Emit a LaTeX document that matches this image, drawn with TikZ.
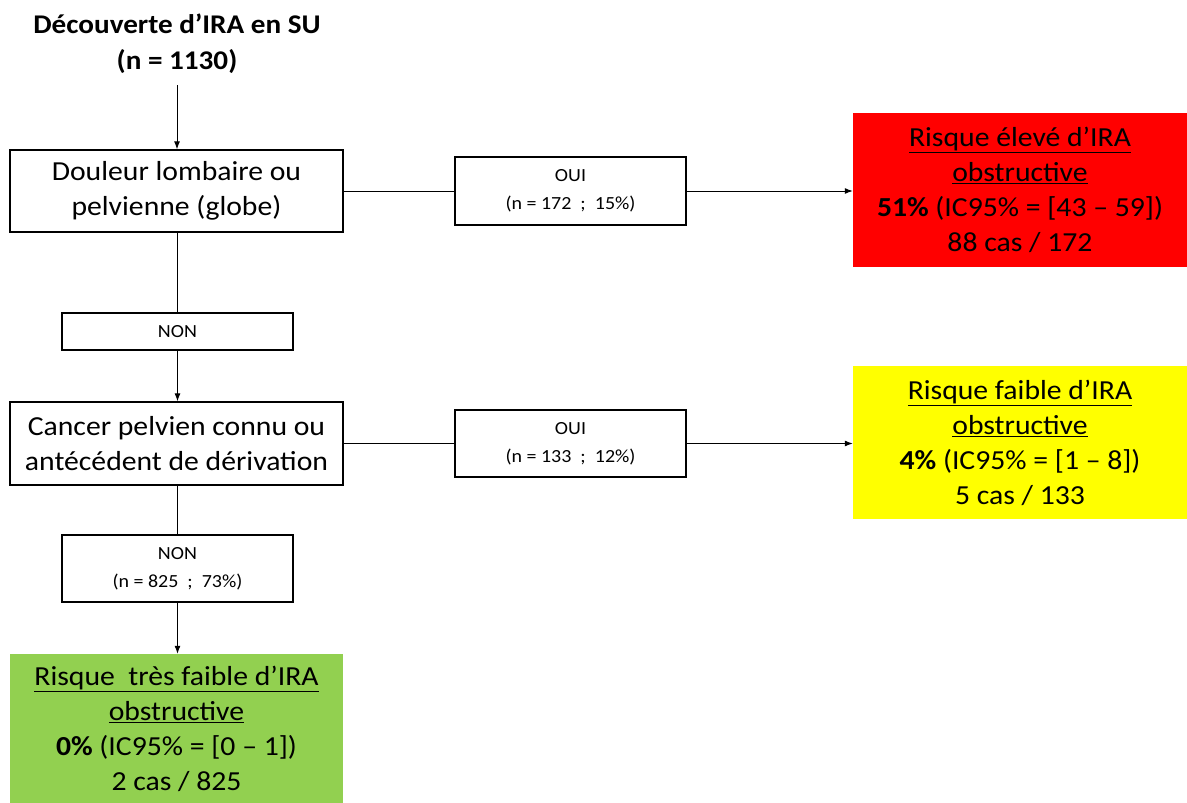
\documentclass[tikz,border=0pt]{standalone}
\usepackage{fontspec}
\setmainfont[FakeStretch=1.08]{Carlito}
\usetikzlibrary{arrows.meta}
\definecolor{rred}{HTML}{FF0000}
\definecolor{ryellow}{HTML}{FFFF00}
\definecolor{rgreen}{HTML}{92D050}
\begin{document}
\begin{tikzpicture}[x=1pt,y=1pt,
  bigbox/.style={draw=black,line width=1.3pt,fill=white,minimum width=333pt,minimum height=82pt,align=center,inner sep=0pt,font=\fontsize{27.5}{35}\selectfont},
  smallbox/.style={draw=black,line width=1.3pt,fill=white,minimum width=231pt,align=center,inner sep=0pt,font=\fontsize{18.5}{28}\selectfont},
  riskbox/.style={draw=none,minimum width=334pt,minimum height=153pt,align=center,inner sep=0pt,font=\fontsize{27.5}{35}\selectfont},
  conn/.style={line width=1pt},
  arr/.style={line width=1pt,-{Latex[length=8pt,width=6pt]}}]
\useasboundingbox (0,0) rectangle (1187,-803);
\node[font=\bfseries\fontsize{27}{36}\selectfont,align=center,inner sep=0pt] (title) at (177,-44) {Découverte d’IRA en SU\\(n = 1130)};
\node[bigbox] (b1) at (176.5,-191) {Douleur lombaire ou\\pelvienne (globe)};
\node[smallbox,minimum height=68pt] (oui1) at (570.5,-191) {OUI\\(n = 172 \ ; \ 15\%)};
\node[riskbox,fill=rred,minimum height=154pt] (red) at (1020,-190) {\underline{Risque élevé d’IRA}\\\underline{obstructive}\\\textbf{51\%} (IC95\% = [43 – 59])\\88 cas / 172};
\node[smallbox,minimum height=37pt] (non1) at (177.5,-331.5) {NON};
\node[bigbox,minimum height=83pt] (b2) at (176.5,-443.5) {Cancer pelvien connu ou\\antécédent de dérivation};
\node[smallbox,minimum height=67pt] (oui2) at (570.5,-443.5) {OUI\\(n = 133 \ ; \ 12\%)};
\node[riskbox,fill=ryellow] (yellow) at (1020,-442.5) {\underline{Risque faible d’IRA}\\\underline{obstructive}\\\textbf{4\%} (IC95\% = [1 – 8])\\5 cas / 133};
\node[smallbox,minimum height=67pt] (non2) at (177.5,-568.5) {NON\\(n = 825 \ ; \ 73\%)};
\node[riskbox,fill=rgreen,minimum width=333pt,minimum height=149pt] (green) at (176.5,-728.5) {\underline{Risque \ très faible d’IRA}\\\underline{obstructive}\\\textbf{0\%} (IC95\% = [0 – 1])\\2 cas / 825};
\coordinate (t0) at (177,-85);
\draw[arr] (t0) -- (t0 |- b1.north);
\draw[conn] (b1.east) -- (oui1.west);
\draw[arr] (oui1.east) -- (oui1.east -| red.west);
\draw[conn] (b1.south -| non1.north) -- (non1.north);
\draw[arr] (non1.south) -- (non1.south |- b2.north);
\draw[conn] (b2.east) -- (oui2.west);
\draw[arr] (oui2.east) -- (oui2.east -| yellow.west);
\draw[conn] (b2.south -| non2.north) -- (non2.north);
\draw[arr] (non2.south) -- (non2.south |- green.north);
\end{tikzpicture}
\end{document}
